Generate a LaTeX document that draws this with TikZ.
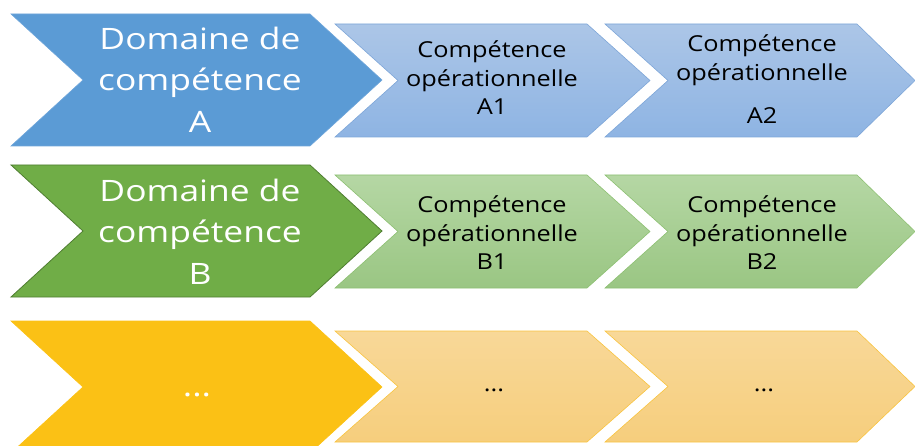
\documentclass[tikz,border=0pt]{standalone}
\usepackage{fontspec}
\setmainfont{Open Sans}
\newfontfamily\bigfont[FakeStretch=1.2]{Open Sans}
\newfontfamily\smallfont[FakeStretch=1.15]{Open Sans}
\definecolor{bluebig}{HTML}{5B9BD5}
\definecolor{blueline}{HTML}{6FA6DA}
\definecolor{bluetop}{HTML}{ACC6E7}
\definecolor{bluebot}{HTML}{8EB4E3}
\definecolor{bluesmline}{HTML}{7EA6D8}
\definecolor{greenbig}{HTML}{70AD47}
\definecolor{greenline}{HTML}{507E32}
\definecolor{greentop}{HTML}{B5D7A4}
\definecolor{greenbot}{HTML}{9AC683}
\definecolor{greensmline}{HTML}{8DC072}
\definecolor{yellowbig}{HTML}{FBC115}
\definecolor{yellowtop}{HTML}{F8D898}
\definecolor{yellowbot}{HTML}{F6CE7D}
\definecolor{yellowsmline}{HTML}{F9C440}
% #1 style, #2 left x, #3 top y, #4 bottom y, #5 top-right x, #6 notch depth, #7 tip depth
\newcommand\chevshape[7]{%
  \path[#1] (#2,#3) -- (#5,#3) -- ({#5+#7},{(#3+#4)/2}) -- (#5,#4) -- (#2,#4)
    -- ({#2+#6},{(#3+#4)/2}) -- cycle;}
\tikzset{
  bigA/.style={fill=bluebig, draw=blueline, line width=0.6pt},
  smA/.style={top color=bluetop, bottom color=bluebot, draw=bluesmline, line width=0.6pt},
  bigB/.style={fill=greenbig, draw=greenline, line width=0.8pt},
  smB/.style={top color=greentop, bottom color=greenbot, draw=greensmline, line width=0.6pt},
  bigC/.style={fill=yellowbig, draw=yellowbig, line width=0.6pt},
  smC/.style={top color=yellowtop, bottom color=yellowbot, draw=yellowsmline, line width=0.6pt},
  bigtxt/.style={text=white, align=center, inner sep=0pt,
    font=\bigfont\fontsize{29.5}{41.5}\selectfont},
  smtxt/.style={text=black, align=center, inner sep=0pt,
    font=\smallfont\fontsize{22}{28.5}\selectfont},
}
\begin{document}
\begin{tikzpicture}[x=1pt,y=-1pt]
\useasboundingbox (0,0) rectangle (915,446);
% Row A
\chevshape{bigA}{11}{14}{146}{310}{72}{72}
\chevshape{smA}{335}{24}{137}{587}{63}{63}
\chevshape{smA}{605}{24}{137}{857}{63}{58}
% Row B
\chevshape{bigB}{11}{165}{297}{310}{72}{72}
\chevshape{smB}{335}{175}{288}{587}{63}{63}
\chevshape{smB}{605}{175}{288}{857}{63}{58}
% Row C
\chevshape{bigC}{11}{321}{453}{310}{72}{72}
\chevshape{smC}{335}{331}{442}{587}{63}{63}
\chevshape{smC}{605}{331}{442}{857}{63}{58}
% Texts
\node[bigtxt] (dA) at (200,79.5) {Domaine de\\compétence\\A};
\node[smtxt] (a1) at (492,78) {Compétence\\opérationnelle\\A1};
\node[smtxt] (a2) at (762,79.5) {Compétence\\opérationnelle\\[15pt]A2};
\node[bigtxt] (dB) at (200,231.5) {Domaine de\\compétence\\B};
\node[smtxt] (b1) at (492,233) {Compétence\\opérationnelle\\B1};
\node[smtxt] (b2) at (762,233) {Compétence\\opérationnelle\\B2};
\node[bigtxt, anchor=base] (dC) at (197,396) {...};
\node[smtxt, anchor=base] (c1) at (494,391) {...};
\node[smtxt, anchor=base] (c2) at (764,391) {...};
\end{tikzpicture}
\end{document}
